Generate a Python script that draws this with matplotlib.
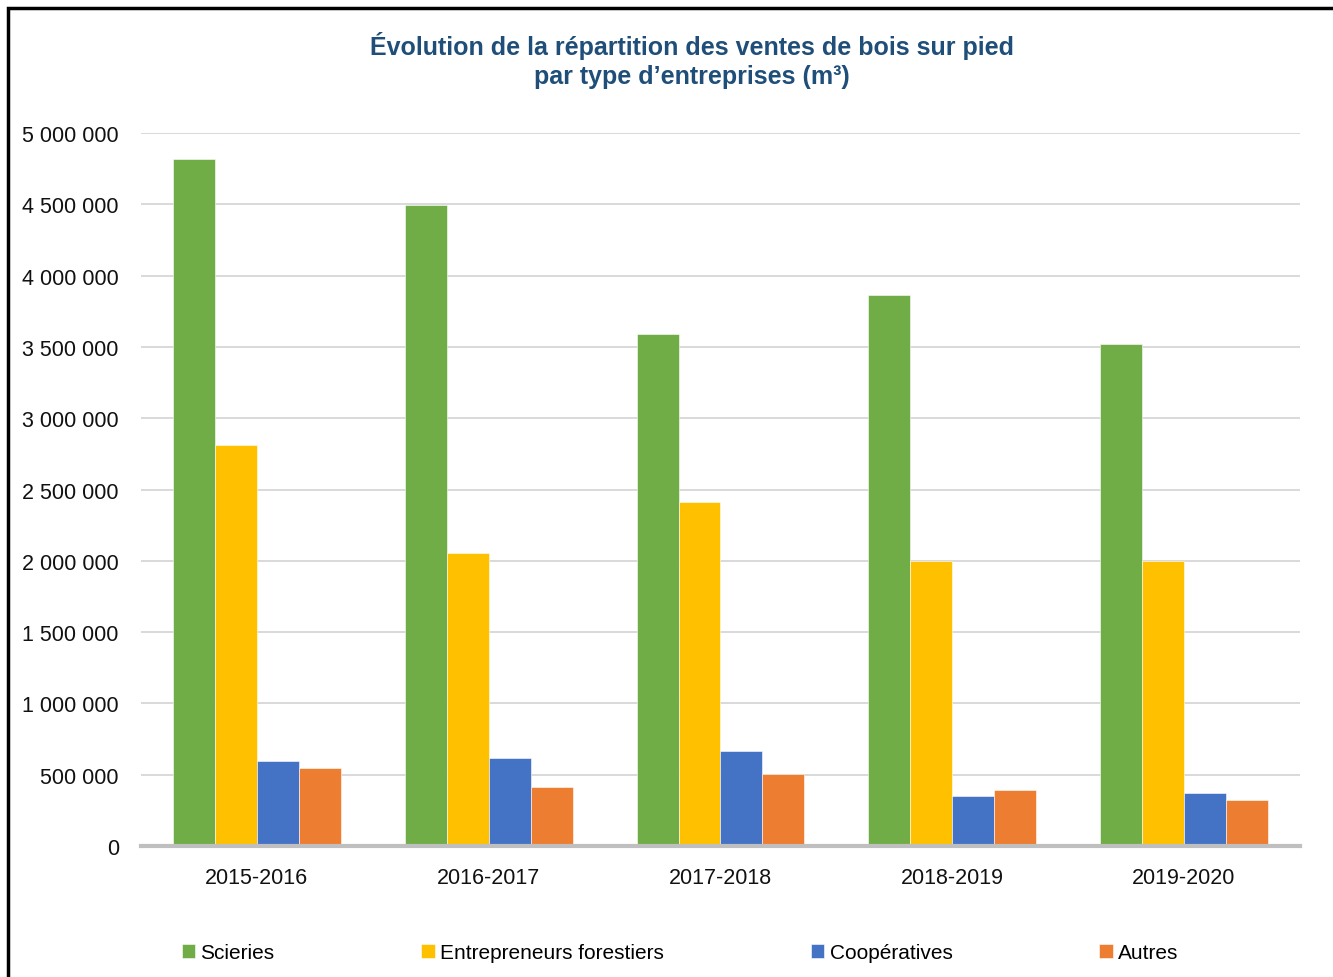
import numpy as np
import matplotlib.pyplot as plt
from matplotlib.patches import Rectangle
from matplotlib.ticker import FuncFormatter

# Sales volumes (m3) per company type and season
saisons = ['2015-2016', '2016-2017', '2017-2018', '2018-2019', '2019-2020']
scieries = [4820000, 4495000, 3590000, 3865000, 3520000]
entrepreneurs = [2812000, 2055000, 2412000, 2000000, 2002000]
cooperatives = [597000, 617000, 666000, 352000, 372000]
autres = [548000, 414000, 505000, 393000, 323000]

series = [
    ('Scieries', scieries, '#70AD47'),
    ('Entrepreneurs forestiers', entrepreneurs, '#FFC000'),
    ('Coopératives', cooperatives, '#4472C4'),
    ('Autres', autres, '#ED7D31'),
]

plt.rcParams['font.family'] = ['Liberation Sans', 'DejaVu Sans']

fig = plt.figure(figsize=(13.33, 9.78), dpi=100)
ax = fig.add_axes([0.1058, 0.1339, 0.8694, 0.7291])

x = np.arange(len(saisons))
width = 0.181
for i, (name, vals, color) in enumerate(series):
    ax.bar(x + (i - 1.5) * width, vals, width, color=color, label=name,
           edgecolor='white', linewidth=0.4, zorder=3)

ax.set_xlim(-0.5, len(saisons) - 0.5)
ax.set_ylim(0, 5000000)
ax.set_yticks(np.arange(0, 5000001, 500000))
ax.yaxis.set_major_formatter(FuncFormatter(lambda v, p: f'{int(v):,}'.replace(',', ' ')))
ax.set_xticks(x)
ax.set_xticklabels(saisons)
ax.tick_params(axis='y', length=0, pad=16, labelsize=15.5, colors='#111111')
ax.tick_params(axis='x', length=0, pad=15, labelsize=15.5, colors='#111111')

ax.grid(axis='y', color='#D9D9D9', linewidth=1.4, zorder=0)
for side in ['top', 'right', 'left']:
    ax.spines[side].set_visible(False)
ax.spines['bottom'].set_color('#BFBFBF')
ax.spines['bottom'].set_linewidth(3)
ax.spines['bottom'].set_zorder(4)

fig.text(0.519, 0.938, 'Évolution de la répartition des ventes de bois sur pied\n'
         'par type d\u2019entreprises (m\u00b3)', ha='center', va='center',
         fontsize=18, fontweight='bold', color='#1F4E79', linespacing=1.3)

leg = fig.legend(loc='center left', bbox_to_anchor=(0.130, 0.025), ncol=4,
                 frameon=False, fontsize=15, handlelength=0.65, handleheight=0.65,
                 handletextpad=0.25, columnspacing=7.05, borderaxespad=0)

# black frame around the chart area
fig.patches.append(Rectangle((0.006, -0.2), 1.2, 1.1903, transform=fig.transFigure,
                             fill=False, edgecolor='black', linewidth=2.5))

fig.savefig('out.png', dpi=100)
